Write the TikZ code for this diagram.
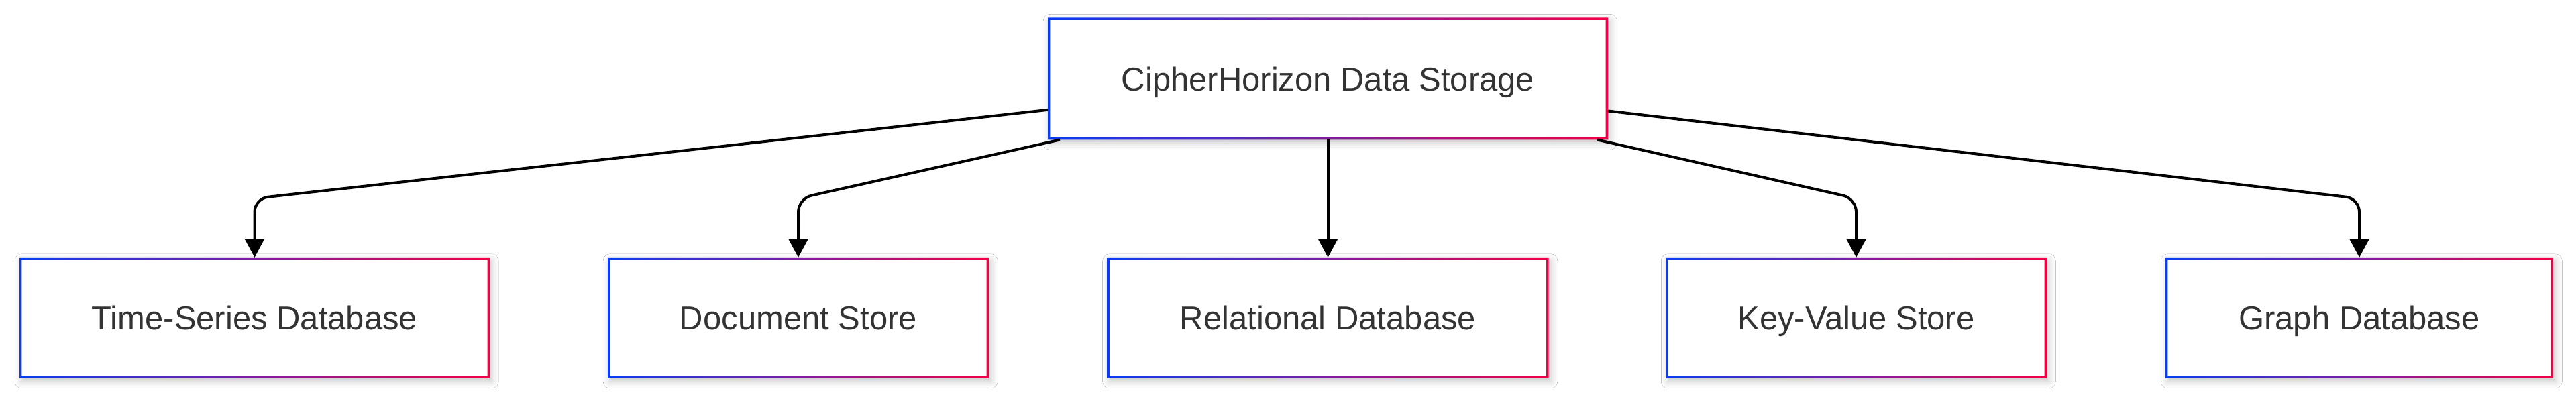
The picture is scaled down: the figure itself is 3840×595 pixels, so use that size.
\documentclass[tikz,border=0pt]{standalone}
\usepackage{fontspec}
\setmainfont{Liberation Sans}
\usetikzlibrary{arrows.meta,shadows.blur,calc}
\definecolor{bblue}{RGB}{10,60,245}
\definecolor{bred}{RGB}{240,0,70}
\definecolor{txt}{RGB}{51,51,51}
\tikzset{
 box/.style={rectangle, fill=white, draw=none, outer sep=0pt, inner sep=0pt,
   font=\fontsize{12.25pt}{14pt}\selectfont, text=txt, text height=8.8pt, text depth=0pt,
   blur shadow={shadow xshift=0.8pt, shadow yshift=-1.2pt, shadow blur radius=2.5pt, shadow opacity=22}},
 conn/.style={draw=black, line width=1pt, -{Triangle[width=7pt,length=6.75pt]}, rounded corners=5pt},
}
\newcommand\gframe[1]{\shade[left color=bblue,right color=bred,even odd rule] (#1.south west) rectangle (#1.north east) ([xshift=0.85pt,yshift=0.85pt]#1.south west) rectangle ([xshift=-0.85pt,yshift=-0.85pt]#1.north east);}
\begin{document}
\begin{tikzpicture}[x=0.25pt,y=-0.25pt]
\useasboundingbox[fill=white] (0,0) rectangle (3840,595);
\node[box, minimum width=208.75pt, minimum height=45.5pt] (top) at (1979.5,117.5) {CipherHorizon Data Storage};
\node[box, minimum width=175.25pt, minimum height=45pt] (ts) at (379.5,474) {Time-Series Database};
\node[box, minimum width=142pt, minimum height=45pt] (ds) at (1190,474) {Document Store};
\node[box, minimum width=164.5pt, minimum height=45pt] (rel) at (1979.5,474) {Relational Database};
\node[box, minimum width=142pt, minimum height=45pt] (kv) at (2767,474) {Key-Value Store};
\node[box, minimum width=144.5pt, minimum height=45pt] (gr) at (3517,474) {Graph Database};
\foreach \n in {top,ts,ds,rel,kv,gr} {\gframe{\n}}
\coordinate (ylev) at (0,296);
\draw[conn] ([yshift=-11.6pt]top.west) -- (ts.north |- ylev) -- (ts.north);
\draw[conn] ([xshift=4.5pt]top.south west) -- (ds.north |- ylev) -- (ds.north);
\draw[conn] (top.south) -- (rel.north);
\draw[conn] ([xshift=-4pt]top.south east) -- (kv.north |- ylev) -- (kv.north);
\draw[conn] ([yshift=-12pt]top.east) -- (gr.north |- ylev) -- (gr.north);
\end{tikzpicture}
\end{document}
